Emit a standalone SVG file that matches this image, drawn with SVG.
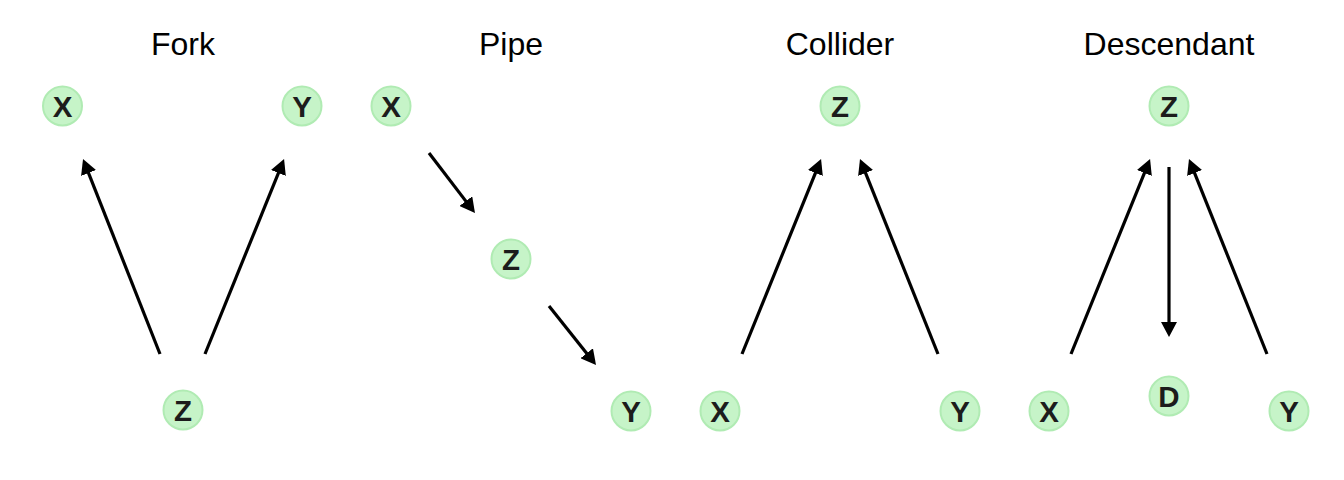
<svg xmlns="http://www.w3.org/2000/svg" width="1344" height="480" viewBox="0 0 1344 480">
<defs>
<style>
.title{font-family:"Liberation Sans",Arial,sans-serif;font-size:32px;fill:#000;text-anchor:middle}
.node circle{fill:#c6f4c8;stroke:#b0ebb3;stroke-width:2}
.node text{font-family:"Liberation Sans",Arial,sans-serif;font-size:29.5px;font-weight:bold;fill:#1c1c1c;text-anchor:middle}
.edge{stroke:#000;stroke-width:3.2;fill:none;marker-end:url(#ah)}
</style>
<marker id="ah" markerUnits="userSpaceOnUse" markerWidth="15" markerHeight="16" viewBox="0 0 15 16" refX="5" refY="8" orient="auto">
<path d="M0,0 L15,8 L0,16 z" fill="#000"/>
</marker>
</defs>
<rect width="1344" height="480" fill="#fff"/>
<g id="titles">
<text class="title" x="183" y="54.5">Fork</text>
<text class="title" x="511" y="54.5">Pipe</text>
<text class="title" x="840" y="54.5">Collider</text>
<text class="title" x="1169" y="54.5">Descendant</text>
</g>
<g id="connectors">
<line class="edge" x1="160" y1="354" x2="86.7" y2="168.3"/>
<line class="edge" x1="205" y1="354" x2="280.3" y2="168.3"/>
<line class="edge" x1="429" y1="153" x2="468.9" y2="205.1"/>
<line class="edge" x1="549" y1="306" x2="589.8" y2="357.2"/>
<line class="edge" x1="742" y1="354" x2="817.3" y2="168.3"/>
<line class="edge" x1="938" y1="354" x2="863.7" y2="168.3"/>
<line class="edge" x1="1071" y1="354" x2="1146.3" y2="168.3"/>
<line class="edge" x1="1267" y1="354" x2="1192.7" y2="168.3"/>
<line class="edge" x1="1169" y1="167" x2="1169" y2="327"/>
</g>
<g id="fork-x" class="node"><circle cx="62.5" cy="106" r="19.5"/><text x="62.5" y="116.8">X</text></g>
<g id="fork-y" class="node"><circle cx="302" cy="106" r="19.5"/><text x="302" y="116.8">Y</text></g>
<g id="fork-z" class="node"><circle cx="183" cy="410" r="19.5"/><text x="183" y="420.8">Z</text></g>
<g id="pipe-x" class="node"><circle cx="391" cy="106" r="19.5"/><text x="391" y="116.8">X</text></g>
<g id="pipe-z" class="node"><circle cx="511" cy="259" r="19.5"/><text x="511" y="269.8">Z</text></g>
<g id="pipe-y" class="node"><circle cx="631" cy="411" r="19.5"/><text x="631" y="421.8">Y</text></g>
<g id="collider-z" class="node"><circle cx="840" cy="106" r="19.5"/><text x="840" y="116.8">Z</text></g>
<g id="collider-x" class="node"><circle cx="720" cy="411" r="19.5"/><text x="720" y="421.8">X</text></g>
<g id="collider-y" class="node"><circle cx="960" cy="411" r="19.5"/><text x="960" y="421.8">Y</text></g>
<g id="desc-z" class="node"><circle cx="1169" cy="106" r="19.5"/><text x="1169" y="116.8">Z</text></g>
<g id="desc-d" class="node"><circle cx="1169" cy="396" r="19.5"/><text x="1169" y="406.8">D</text></g>
<g id="desc-x" class="node"><circle cx="1049" cy="411" r="19.5"/><text x="1049" y="421.8">X</text></g>
<g id="desc-y" class="node"><circle cx="1289" cy="411" r="19.5"/><text x="1289" y="421.8">Y</text></g>
</svg>
